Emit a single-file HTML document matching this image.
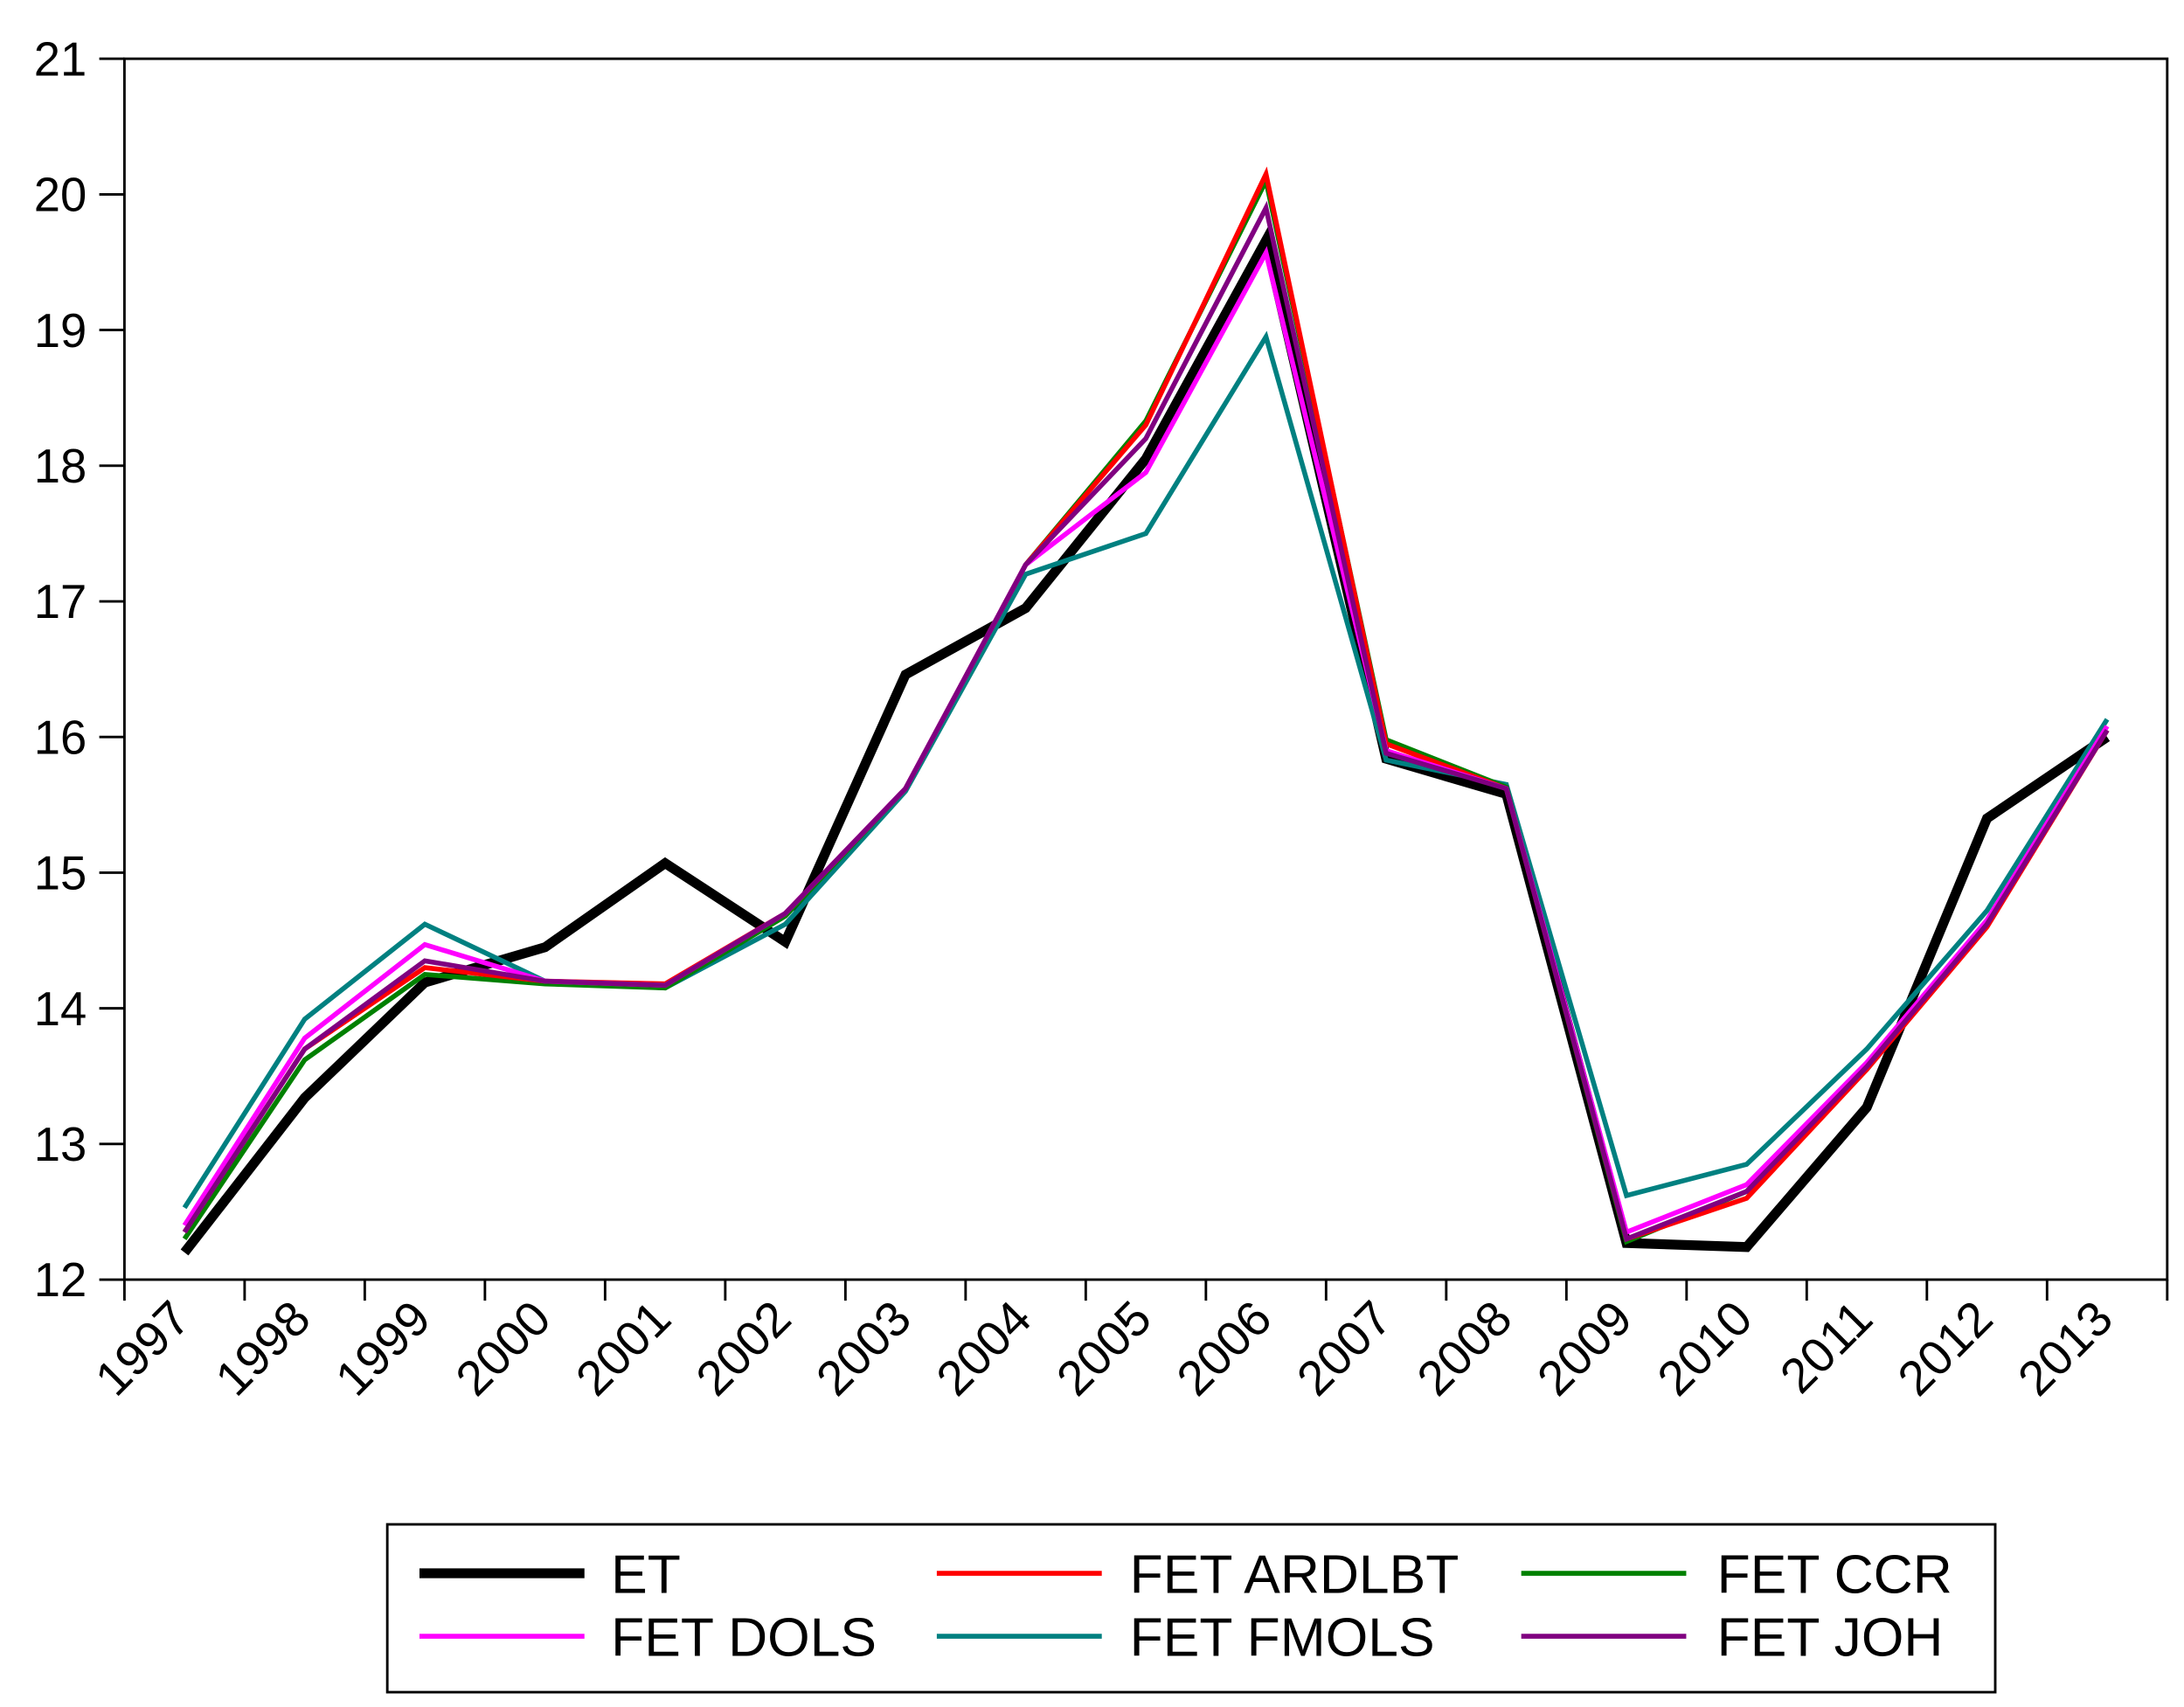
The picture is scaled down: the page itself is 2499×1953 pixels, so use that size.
<!DOCTYPE html>
<html><head><meta charset="utf-8"><style>
html,body{margin:0;padding:0;background:#fff;}
svg{display:block;}
text{font-family:"Liberation Sans",Arial,sans-serif;fill:#000;}
</style></head><body>
<svg id="chart" width="2499" height="1953" viewBox="0 0 1562 1220.6" preserveAspectRatio="none" xmlns="http://www.w3.org/2000/svg">
<rect x="0" y="0" width="1562" height="1221" fill="#fff"/>
<g id="axes"></g>
<g id="series"></g>
<g id="legend"></g>
</svg>
<script>
const years = ["1997","1998","1999","2000","2001","2002","2003","2004","2005","2006","2007","2008","2009","2010","2011","2012","2013"];
const yTicks = [12,13,14,15,16,17,18,19,20,21];
const seriesNames = ["ET","FET ARDLBT","FET CCR","FET DOLS","FET FMOLS","FET JOH"];
const etValues = [12.2,13.34,14.19,14.45,15.07,14.49,16.46,16.95,18.05,19.66,15.84,15.58,12.27,12.24,13.27,15.4,16.0];
const ardlValues = [12.35,13.7,14.3,14.2,14.18,14.7,15.62,17.27,18.3,20.15,15.95,15.62,12.3,12.6,13.55,14.6,16.05];
const ccrValues = [12.3,13.62,14.25,14.18,14.15,14.68,15.62,17.27,18.33,20.1,15.98,15.63,12.28,12.65,13.55,14.62,16.05];
const dolsValues = [12.4,13.78,14.47,14.2,14.17,14.7,15.62,17.27,17.95,19.57,15.9,15.62,12.35,12.7,13.6,14.65,16.08];
const fmolsValues = [12.53,13.92,14.62,14.2,14.15,14.62,15.6,17.2,17.5,18.95,15.83,15.65,12.62,12.85,13.7,14.72,16.13];
const johValues = [12.35,13.7,14.35,14.2,14.17,14.7,15.62,17.27,18.2,19.9,15.88,15.62,12.3,12.65,13.57,14.62,16.05];

const NS="http://www.w3.org/2000/svg";
const L=89,R=1550,T=42,B=915,yMin=12,yMax=21;
const step=(R-L)/years.length;
const xPos=i=>L+step*(i+0.5);
const yPos=v=>B-(v-yMin)/(yMax-yMin)*(B-T);
function mk(tag,attrs,parent){const e=document.createElementNS(NS,tag);for(const k in attrs)e.setAttribute(k,attrs[k]);parent.appendChild(e);return e;}
const axes=document.getElementById('axes');
const frame=mk('rect',{x:L,y:T,width:R-L,height:B-T,fill:'none',stroke:'#000','stroke-width':1.8},axes);


yTicks.forEach(v=>{
  const y=yPos(v);
  const tk=mk('line',{x1:L-18,x2:L,y1:y,y2:y,stroke:'#000','stroke-width':1.8},axes);
  
  
  const t=mk('text',{x:62,y:y+12,'text-anchor':'end','font-size':34},axes);
  t.textContent=v;
  
  
});
for(let i=0;i<=years.length;i++){
  const x=L+step*i;
  const tk=mk('line',{x1:x,x2:x,y1:B,y2:B+15,stroke:'#000','stroke-width':1.8},axes);
  
  
}
years.forEach((yr,i)=>{
  const x=xPos(i)+6,y=B+30;
  const t=mk('text',{x:x,y:y,'text-anchor':'end','font-size':35,transform:`rotate(-45 ${x} ${y})`},axes);
  t.textContent=yr;
  
  
});
const colors=['#000000','#ff0000','#008000','#ff00ff','#008080','#800080'];
const widths=[7,3.5,3.5,3.5,3.5,3.5];
const data=[etValues,ardlValues,ccrValues,dolsValues,fmolsValues,johValues];
const order=[0,4,2,1,3,5];
const sg=document.getElementById('series');
order.forEach(k=>{
  const pts=data[k].map((v,i)=>xPos(i)+','+yPos(v)).join(' ');
  const p=mk('polyline',{points:pts,fill:'none',stroke:colors[k],'stroke-width':widths[k],'stroke-linejoin':'miter'},sg);
  
  
});
const lg=document.getElementById('legend');
const box=mk('rect',{x:277,y:1090,width:1150,height:120,fill:'#fff',stroke:'#000','stroke-width':1.8},lg);


const cols=[[300,437],[670,808],[1088,1228]],rows=[1125,1170];
[0,1,2,3,4,5].forEach((k,j)=>{
  const c=cols[j%3],r=rows[Math.floor(j/3)];
  const l=mk('line',{x1:c[0],x2:c[0]+118,y1:r,y2:r,stroke:colors[k],'stroke-width':k===0?7:3.5},lg);
  
  
  const t=mk('text',{x:c[1],y:r+14,'font-size':39},lg);
  t.textContent=seriesNames[k];
  
  
});
</script>
</body></html>
